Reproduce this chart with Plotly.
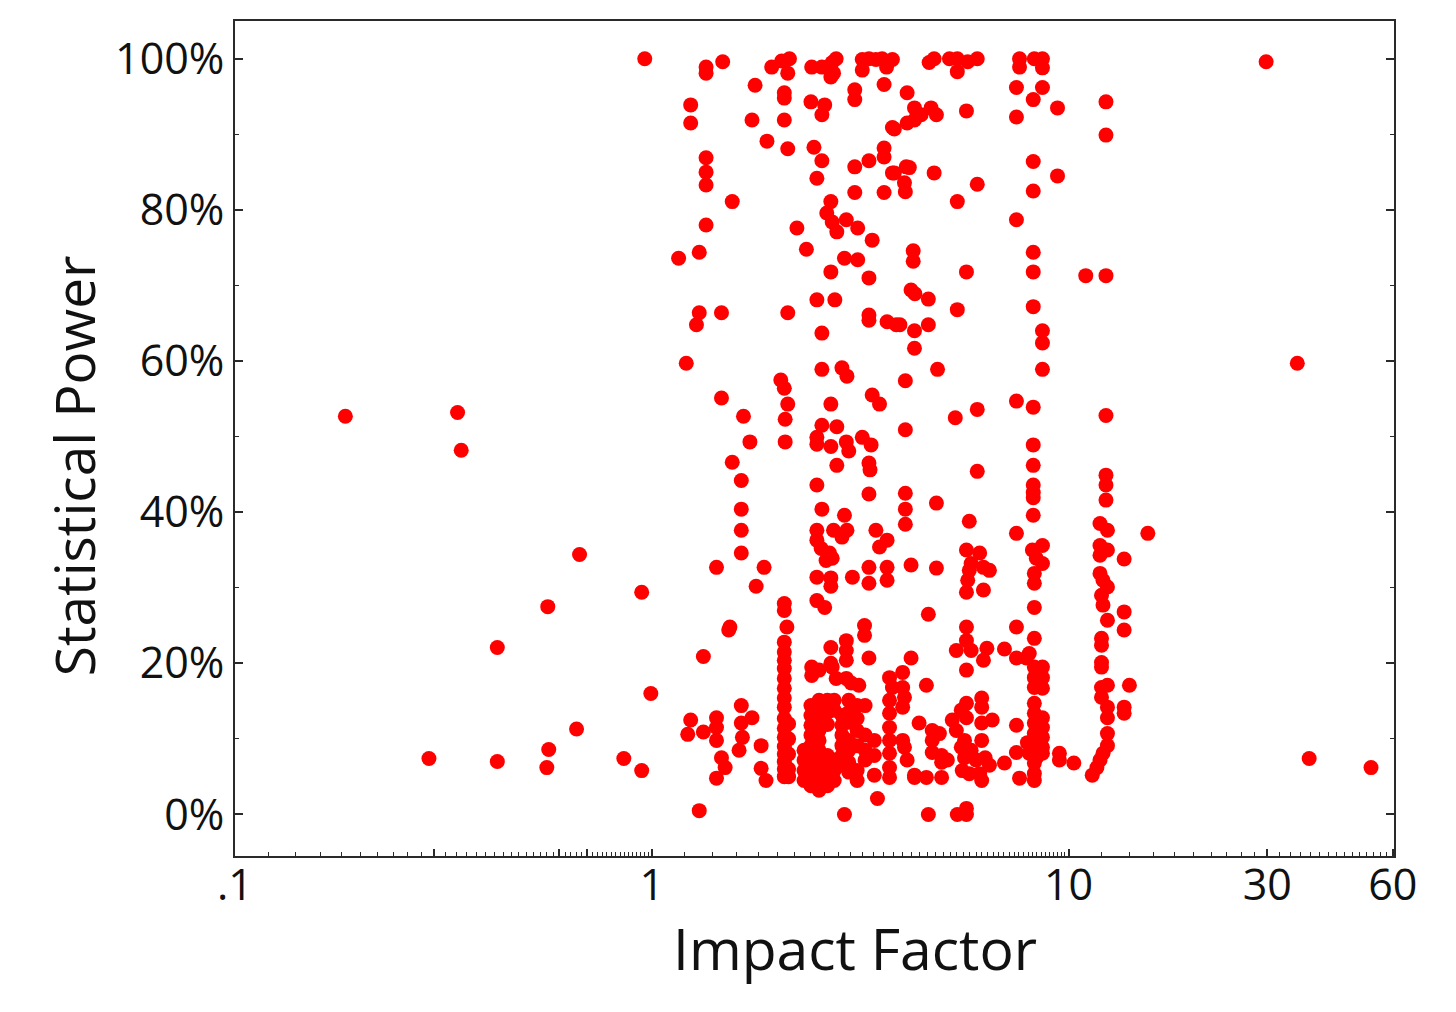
import numpy as np
import plotly.graph_objects as go

# ---- data: impact factor (x) and statistical power in % (y), grouped by region ----
if_out = [0.184, 0.342, 0.349, 0.292, 0.426, 0.426, 0.563, 0.566, 0.560, 0.671,
          0.660, 0.857, 0.946, 0.946, 0.995, 0.962, 29.8, 35.4, 37.8, 53.2]
pw_out = [52.7, 53.2, 48.2, 7.4, 22.1, 7.0, 27.5, 8.6, 6.2, 34.4,
          11.3, 7.4, 29.4, 5.8, 16.0, 100, 99.6, 59.7, 7.4, 6.2]

if_a = [1.35, 1.35, 1.48, 1.77, 1.94, 2.05, 2.14, 2.12, 2.08, 2.08,
        1.24, 1.24, 1.74, 2.08, 1.89, 2.12,
        2.42, 2.56, 2.71, 2.73, 2.69, 2.77,
        2.41, 2.60, 2.56, 2.45, 2.56, 2.49,
        3.07, 3.07,
        3.20, 3.32, 3.45, 3.57, 3.78, 3.20, 3.66, 3.61,
        3.78, 3.61, 3.61, 3.32, 3.07, 3.78, 3.07, 3.61,
        1.35, 1.35, 1.35, 1.56, 1.35, 1.16, 1.30,
        2.23, 2.35,
        2.69, 2.63, 2.71, 2.78, 2.93, 3.12, 3.38,
        2.90, 3.12, 2.69, 3.32, 2.49, 2.75]
pw_a = [98.9, 98.1, 99.6, 96.5, 98.9, 99.7, 100, 98.1, 95.5, 94.8,
        93.9, 91.5, 91.9, 91.9, 89.1, 88.1,
        98.9, 98.9, 99.5, 98.1, 97.6, 100,
        94.3, 93.9, 92.6, 88.3, 86.5, 84.2,
        95.9, 94.6,
        99.9, 100, 99.9, 100, 99.9, 98.5, 98.9, 96.6,
        90.9, 88.2, 87.0, 86.5, 85.7, 84.9, 82.3, 82.3,
        86.9, 85.0, 83.3, 81.1, 78.0, 73.6, 74.4,
        77.6, 74.8,
        81.1, 79.6, 78.4, 77.1, 78.7, 77.6, 76.0,
        73.6, 73.4, 71.8, 71.0, 68.1, 68.1]

if_b = [1.30, 1.28, 1.47, 2.12, 3.32, 3.32, 3.67, 3.86, 2.56,
        1.21, 2.56, 2.86, 2.94, 2.04, 2.08, 1.47, 2.12, 2.69, 3.38, 3.52,
        1.66, 2.09, 1.72, 2.09,
        2.56, 2.78, 2.49, 2.49, 2.69, 2.93, 2.97, 3.20, 3.36, 3.32, 3.34,
        2.78, 1.56, 1.64, 2.49, 3.32, 1.64, 2.56, 2.90,
        1.64, 2.49, 2.73, 2.94, 2.86, 2.49, 2.55, 2.67, 2.71, 2.62,
        3.45, 3.67, 3.52, 1.64, 1.43, 1.86, 3.32, 3.67]
pw_b = [66.4, 64.8, 66.4, 66.4, 66.1, 65.4, 65.2, 64.8, 63.7,
        59.7, 58.9, 59.1, 58.0, 57.5, 56.4, 55.1, 54.3, 54.3, 55.5, 54.3,
        52.7, 52.3, 49.3, 49.3,
        51.5, 51.3, 49.9, 49.0, 48.7, 49.3, 48.1, 49.9, 48.9, 46.5, 45.6,
        46.2, 46.6, 44.2, 43.6, 42.4, 40.4, 40.4, 39.6,
        37.6, 37.6, 37.6, 37.6, 36.7, 36.3, 35.2, 34.6, 33.9, 33.6,
        37.6, 36.3, 35.4, 34.6, 32.7, 32.7, 32.7, 32.7]

if_c = [4.63, 4.76, 5.18, 5.41, 5.73, 6.04, 5.41,
        7.63, 7.63, 8.28, 8.66, 8.66,
        4.10, 4.27, 4.43, 4.68, 4.82, 4.10, 4.27, 3.82,
        5.69, 7.50, 7.50, 8.66, 8.23, 9.41, 12.3, 12.3,
        3.82, 4.08, 4.15, 4.76, 4.04, 4.06, 6.04, 8.23, 8.23, 9.41,
        5.41, 7.50, 4.24, 4.24, 5.69, 8.23, 8.23, 11.0, 12.3,
        4.19, 4.28, 4.61, 5.41, 8.23]
pw_c = [99.5, 100, 100, 100, 99.6, 100, 98.3,
        100, 98.9, 100, 100, 98.8,
        95.5, 93.5, 92.6, 93.5, 92.6, 91.5, 91.9, 90.7,
        93.1, 96.2, 92.3, 96.2, 94.6, 93.5, 94.3, 89.9,
        84.9, 85.7, 85.6, 84.9, 83.6, 82.4, 83.4, 86.4, 82.5, 84.5,
        81.1, 78.7, 74.6, 73.2, 71.8, 74.4, 71.8, 71.3, 71.3,
        69.4, 68.9, 68.2, 66.8, 67.2]

if_d = [3.94, 4.27, 4.61, 4.27, 8.66, 8.66, 4.85, 8.66, 4.06,
        7.50, 8.23, 6.04, 5.35, 12.3, 4.06,
        8.23, 8.23, 8.23, 8.23, 8.23, 6.04, 12.3, 12.3, 12.3,
        4.06, 4.06, 4.06, 4.82, 5.78, 8.23, 7.50, 11.9, 12.4, 15.5,
        4.19, 4.82, 5.69, 6.12, 5.84, 6.25,
        8.19, 8.66, 8.37, 8.66, 11.9, 12.4, 11.9, 13.6]
pw_d = [64.8, 64.0, 64.8, 61.7, 64.0, 62.4, 58.9, 58.9, 57.4,
        54.7, 53.9, 53.6, 52.5, 52.8, 50.9,
        48.9, 46.2, 43.6, 42.6, 41.9, 45.4, 44.9, 43.6, 41.6,
        42.5, 40.4, 38.4, 41.2, 38.8, 39.6, 37.2, 38.5, 37.6, 37.2,
        33.0, 32.6, 35.0, 34.6, 33.2, 32.7,
        35.0, 35.6, 33.9, 33.2, 35.6, 35.0, 34.3, 33.8]

if_e = [2.49, 2.69, 2.69, 3.03, 3.32, 3.67, 1.78,
        2.08, 2.08, 2.11, 2.08, 2.08, 2.08, 2.08, 2.08, 2.08, 2.08,
        2.08, 2.08, 2.08, 2.08, 2.08, 2.08, 2.08, 2.08, 2.08,
        2.13, 2.13, 2.13, 2.13, 2.13,
        2.49, 2.60, 1.54, 1.53, 3.24, 3.24,
        2.93, 2.69, 2.93, 2.93, 2.69, 1.33, 3.32,
        2.42, 2.42, 2.52, 2.71, 2.77, 2.93, 3.01, 3.14,
        1.64, 1.43, 1.74, 1.24, 1.22, 1.33, 1.43, 1.64,
        1.43, 1.65, 1.62, 1.47, 1.50, 1.83, 1.43, 1.83, 1.88,
        1.30, 2.90, 3.48]
pw_e = [31.4, 31.3, 30.2, 31.4, 30.6, 31.0, 30.2,
        27.9, 27.0, 24.8, 22.8, 21.5, 20.4, 19.3, 18.0, 16.7, 15.4,
        14.2, 12.7, 11.4, 10.2, 9.0, 8.0, 7.0, 6.0, 5.0,
        12.0, 10.0, 8.0, 6.0, 5.0,
        28.3, 27.4, 24.8, 24.4, 25.0, 23.7,
        23.0, 22.1, 21.7, 20.4, 20.0, 20.9, 20.7,
        19.5, 18.4, 19.1, 19.5, 18.0, 18.0, 17.4, 17.1,
        14.4, 12.8, 12.8, 12.5, 10.6, 10.9, 11.5, 12.1,
        9.8, 10.2, 8.5, 7.5, 6.2, 9.1, 4.8, 6.1, 4.5,
        0.5, 0.0, 2.1]

if_f = [2.32, 2.32, 2.32, 2.32,
        2.41, 2.41, 2.41, 2.41, 2.41, 2.41, 2.41, 2.41, 2.41,
        2.52, 2.52, 2.52, 2.52, 2.52, 2.52, 2.52, 2.52, 2.52, 2.52,
        2.64, 2.64, 2.64, 2.64, 2.64, 2.64, 2.64,
        2.74, 2.74, 2.74, 2.74, 2.74,
        2.86, 2.86, 2.86, 2.86, 2.86, 2.86,
        2.97, 2.97, 2.97, 2.97, 2.97, 2.97, 2.97,
        3.11, 3.11, 3.11, 3.11, 3.11, 3.11,
        3.25, 3.25, 3.25, 3.25,
        3.42, 3.42, 3.42]
pw_f = [8.5, 7.2, 5.8, 4.5,
        14.4, 13.1, 11.8, 10.5, 9.1, 7.8, 6.5, 5.2, 3.8,
        15.1, 13.8, 12.5, 11.1, 9.8, 8.5, 7.2, 5.8, 4.5, 3.2,
        15.1, 13.5, 11.9, 7.8, 6.5, 5.2, 3.8,
        15.1, 13.8, 7.2, 5.8, 4.5,
        13.1, 11.8, 10.5, 9.1, 7.8, 6.5,
        15.1, 13.5, 12.2, 9.8, 8.5, 6.9, 5.6,
        14.4, 12.7, 11.1, 9.1, 5.8, 4.5,
        14.4, 10.5, 8.5, 7.2,
        9.8, 7.8, 5.2]

if_g = [5.78, 6.46, 5.73, 5.69, 6.25,
        8.28, 8.28, 8.28, 4.61,
        11.9, 12.1, 12.4, 12.0, 12.1, 12.4, 13.6, 13.6,
        12.0, 12.0, 12.0, 12.0, 12.0, 12.4, 12.0, 14.0,
        12.4, 13.6, 13.6, 12.4, 12.4, 12.4, 12.1, 11.9, 11.7, 11.4,
        5.69, 5.69, 5.38, 5.84, 6.37, 6.25, 5.69,
        7.02, 7.50, 7.50, 8.28, 8.05, 7.92, 4.19,
        8.28, 8.66, 8.28, 8.66, 8.28, 8.66, 8.28,
        3.72, 4.00, 3.78, 4.00, 4.04, 4.56,
        3.72, 3.72, 3.72, 3.72, 3.72, 3.72, 3.72,
        4.00, 4.00, 4.04, 4.10, 4.27, 4.38,
        4.71, 4.71, 4.90, 4.71, 4.96, 4.96, 5.12,
        4.96, 4.56, 4.27,
        5.26, 5.53, 5.69, 5.69, 5.38, 5.63,
        6.19, 6.19, 6.19, 6.19, 6.56,
        5.53, 5.84, 5.63, 6.00, 6.31, 6.46, 5.56, 5.78, 6.12, 6.19,
        7.02, 7.50, 7.50, 7.63,
        8.28, 8.66, 8.28, 8.66, 8.28, 8.66, 7.97, 8.28, 8.66, 8.05, 8.37, 8.66, 8.28, 8.28, 8.28,
        9.51, 9.51, 10.3,
        4.61, 5.41, 5.69, 5.69]
pw_g = [32.3, 32.3, 31.0, 29.4, 29.7,
        31.9, 30.6, 27.4, 26.5,
        31.9, 31.0, 30.1, 29.0, 27.7, 25.7, 26.8, 24.4,
        23.3, 22.4, 20.1, 19.5, 16.8, 17.1, 15.5, 17.1,
        14.2, 14.2, 13.4, 12.8, 10.7, 9.1, 8.1, 7.2, 6.2, 5.2,
        24.8, 23.0, 21.7, 21.7, 22.0, 20.4, 19.1,
        21.9, 24.8, 20.7, 23.3, 21.3, 20.7, 20.7,
        19.5, 19.5, 18.1, 18.1, 16.8, 16.7, 14.7,
        18.1, 18.8, 16.8, 16.8, 15.5, 17.1,
        15.1, 13.4, 11.5, 9.8, 8.1, 6.2, 4.9,
        14.2, 9.8, 8.9, 7.2, 5.2, 12.1,
        11.1, 9.8, 10.7, 8.2, 7.8, 6.9, 7.2,
        4.9, 4.9, 4.9,
        12.5, 13.8, 14.7, 12.8, 11.1, 9.8,
        15.4, 14.2, 12.1, 9.8, 12.5,
        8.9, 8.5, 7.5, 7.2, 7.5, 6.5, 5.8, 5.4, 5.4, 4.5,
        6.8, 11.8, 8.2, 4.8,
        13.4, 12.8, 12.1, 11.5, 10.7, 10.2, 9.5, 8.9, 8.9, 8.1, 7.5, 8.1, 6.8, 5.4, 4.5,
        8.1, 7.2, 6.8,
        0.0, 0.0, 0.8, 0.0]

x_groups = [if_out, if_a, if_b, if_c, if_d, if_e, if_f, if_g]
y_groups = [pw_out, pw_a, pw_b, pw_c, pw_d, pw_e, pw_f, pw_g]
impact_factor = [v for g in x_groups for v in g]
statistical_power = [v for g in y_groups for v in g]
assert len(impact_factor) == len(statistical_power)

# ---- axis tick definitions ----
x_tick_vals = [0.1, 0.2, 0.3, 0.4, 0.5, 0.6, 0.7, 0.8, 0.9,
               1, 2, 3, 4, 5, 6, 7, 8, 9,
               10, 20, 30, 40, 50, 60]
x_tick_text = [".1", "", "", "", "", "", "", "", "",
               "1", "", "", "", "", "", "", "", "",
               "10", "", "30", "", "", "60"]
x_minor_vals = [d * (1 + 0.2 * k) for d in (0.1, 1, 10) for k in range(1, 45)
                if d * (1 + 0.2 * k) < 61]
y_tick_vals = [0, 20, 40, 60, 80, 100]
y_tick_text = ["0%", "20%", "40%", "60%", "80%", "100%"]
y_minor_vals = [10, 30, 50, 70, 90]

FONT = "Open Sans"
AX = "#2a2a2a"
TXT = "#111111"

fig = go.Figure(go.Scatter(
    x=impact_factor, y=statistical_power, mode="markers",
    marker=dict(size=15, color="#fe0000", line=dict(width=0)),
    showlegend=False,
))

fig.update_layout(
    width=1456, height=1012,
    margin=dict(l=235, r=62, t=21, b=156),
    paper_bgcolor="white", plot_bgcolor="white",
    font=dict(family=FONT, color=TXT),
    annotations=[
        dict(text="Impact Factor", xref="paper", yref="paper", x=0.535, y=-0.110,
             xanchor="center", yanchor="middle", showarrow=False,
             font=dict(size=57, family=FONT, color=TXT)),
        dict(text="Statistical Power", xref="paper", yref="paper", x=-0.1398, y=0.468,
             xanchor="center", yanchor="middle", showarrow=False, textangle=-90,
             font=dict(size=55, family=FONT, color=TXT)),
    ],
)

fig.update_xaxes(
    type="log", range=[-1, np.log10(60.4)],
    showline=True, linecolor=AX, linewidth=2, mirror=True,
    showgrid=False, zeroline=False,
    tickmode="array", tickvals=x_tick_vals, ticktext=x_tick_text,
    ticks="inside", ticklen=7, tickwidth=1.5, tickcolor=AX,
    ticklabelstandoff=-10,
    tickfont=dict(size=43, family=FONT, color=TXT),
    minor=dict(tickmode="array", tickvals=x_minor_vals, ticks="inside",
               ticklen=4, tickwidth=1, tickcolor=AX, showgrid=False),
)

fig.update_yaxes(
    range=[-5.5, 105],
    showline=True, linecolor=AX, linewidth=2, mirror="ticks",
    showgrid=False, zeroline=False,
    tickmode="array", tickvals=y_tick_vals, ticktext=y_tick_text,
    ticks="inside", ticklen=8, tickwidth=1.5, tickcolor=AX,
    tickfont=dict(size=43, family=FONT, color=TXT),
    minor=dict(tickmode="array", tickvals=y_minor_vals, ticks="inside",
               ticklen=4, tickwidth=1, tickcolor=AX, showgrid=False),
)

fig.write_html("out.html", config={"displayModeBar": False},
               post_script="document.body.style.margin='0';")
